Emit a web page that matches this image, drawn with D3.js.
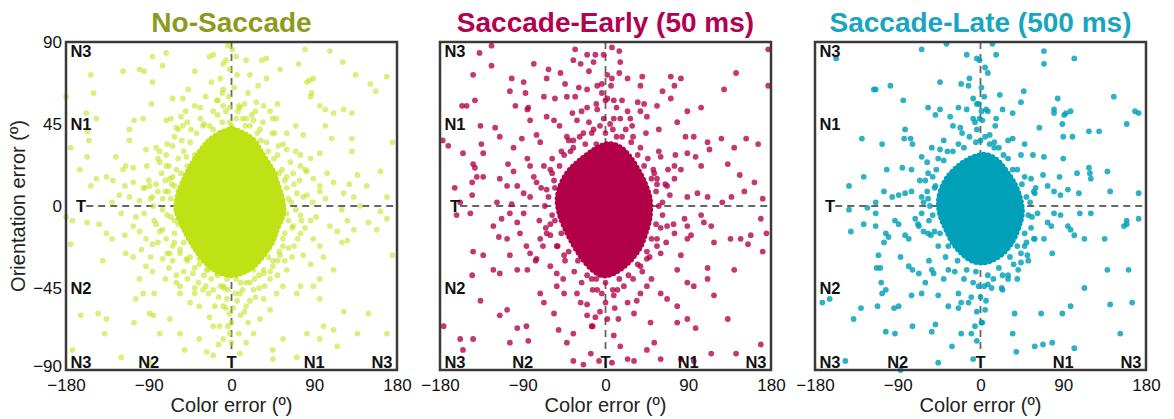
<!DOCTYPE html>
<html>
<head>
<meta charset="utf-8">
<script src="https://cdn.jsdelivr.net/npm/d3@7"></script>
<style>
  body { margin: 0; background: #fff; }
  text { font-family: "Liberation Sans", Arial, sans-serif; }
</style>
</head>
<body>
<div id="chart"></div>
<script>
// ---- data (color error, orientation error) ----
const xTicks = [-180, -90, 0, 90, 180]
const yTicks = [90, 45, 0, -45, -90]
const titles = ["No-Saccade", "Saccade-Early (50 ms)", "Saccade-Late (500 ms)"]
const leftLabels = [[90, "N3"], [45, "N1"], [0, "T"], [-45, "N2"], [-90, "N3"]]
const bottomLabels = [[-90, "N2"], [0, "T"], [90, "N1"], [180, "N3"]]

// outline of the saturated centre blob of each panel
const noSaccadeCore = [[-24,36],[-12,40],[0,42],[12,40],[24,36],[34,28],[44,20],[50,12],[55,4],[56,-4],[50,-12],[44,-20],[36,-26],[26,-32],[14,-36],[0,-38],[-14,-36],[-26,-32],[-36,-26],[-46,-18],[-54,-10],[-60,-2],[-58,6],[-52,14],[-44,22],[-34,30]]
const earlyCore = [[-20,28],[-8,32],[4,34],[16,32],[26,27],[35,20],[43,12],[48,4],[48,-6],[44,-14],[38,-22],[30,-28],[20,-33],[8,-37],[-4,-38],[-16,-34],[-26,-28],[-36,-20],[-44,-12],[-50,-4],[-52,4],[-48,12],[-40,19],[-30,24]]
const lateCore = [[-18,24],[-6,27],[6,28],[18,25],[28,19],[37,12],[43,4],[45,-4],[41,-12],[35,-19],[26,-25],[15,-29],[3,-31],[-9,-30],[-20,-26],[-30,-20],[-38,-12],[-44,-4],[-45,4],[-40,12],[-32,18]]

const noSaccadePts = [
[1,86],[-71,84],[-86,82],[-24,82],[-20,83],[16,80],[38,81],[33,80],[80,86],[107,85],[121,79],[-75,77],[-100,75],[-95,74],[-118,74],[-153,72],[-9,78],[-2,75],[-40,74],[20,72],[53,75],[73,78],[38,70],[29,66],[82,68],[85,69],[89,70],[135,72],[151,67],[157,63],[169,71],[-86,68],[-47,64],[-9,64],[-150,62],[-180,60],
[-64,59],[-53,59],[-87,56],[-15,58],[-9,55],[9,54],[7,52],[27,57],[42,52],[49,48],[96,55],[102,53],[111,51],[122,53],[131,51],[86,60],[87,62],[-158,51],[-96,48],[-106,47],[-71,47],[-20,52],[-55,49],[16,48],[24,47],[-147,48],[102,44],[78,39],[131,37],[175,35],[-157,41],[-111,42],[-60,43],[-53,44],[-31,44],[-2,46],[2,42],[31,42],[47,40],[-175,32],[-155,36],[-111,36],[-93,31],[-82,32],[-71,28],[-64,33],[60,31],[75,28],[51,33],[96,29],[131,30],[109,37],
[-157,27],[-126,27],[-165,20],[-115,22],[-107,21],[-78,24],[-71,22],[-49,27],[-55,18],[-136,16],[-129,14],[-153,11],[-147,15],[-116,11],[-107,13],[-96,10],[-89,11],[-80,8],[-67,15],[-62,11],[-122,6],[-111,5],[-86,5],[-75,4],[-69,8],[75,22],[82,19],[89,15],[96,11],[111,13],[137,17],[162,19],[122,7],[133,5],[169,5],[147,11],[71,7],[78,5],[60,16],[67,18],[102,4],
[-180,-6],[-173,-8],[-157,-9],[-144,-10],[-136,-15],[-116,-16],[-107,-11],[-100,-14],[-82,-10],[-75,-13],[-93,-18],[-86,-21],[-175,-21],[-71,-18],[-64,-22],[-115,-26],[-107,-28],[-140,-30],[-93,-33],[-86,-36],[-75,-29],[-67,-26],[-56,-26],[-49,-29],[162,-3],[169,-7],[149,-9],[158,-13],[126,-8],[133,-13],[107,-11],[115,-14],[75,-5],[86,-8],[67,-11],[75,-15],[89,-18],[96,-22],[126,-19],[56,-18],[62,-23],[78,-27],[86,-32],[111,-35],[175,-27],[53,-27],[45,-33],[24,-35],[35,-37],[-27,-35],[-16,-37],[-35,-29],[-42,-37],
[-164,-60],[-145,-59],[-136,-62],[-173,-79],[-138,-70],[-104,-51],[-96,-48],[-84,-48],[-89,-59],[-85,-60],[-106,-64],[-78,-70],[-67,-62],[-56,-70],[-45,-53],[-40,-48],[-35,-55],[-31,-46],[-60,-42],[-56,-48],[-24,-61],[-20,-66],[-9,-55],[-5,-51],[-9,-44],[-2,-59],[0,-64],[-2,-70],[0,-75],[-13,-66],[-9,-73],[9,-48],[16,-55],[24,-46],[5,-40],[16,-42],[35,-51],[42,-57],[49,-48],[56,-44],[31,-62],[24,-70],[16,-75],[9,-81],[-20,-82],[45,-79],[71,-48],[75,-44],[89,-44],[96,-40],[96,-51],[122,-58],[100,-66],[111,-68],[82,-70],[96,-73],[137,-70],[149,-59],[169,-70],[115,-77],[56,-73],[-35,-73],[-27,-80],[-51,-79],[45,-84],[71,-83],[-89,-86],[-120,-83],
[-60,20],[-65,12],[-70,-5],[-62,-15],[-58,8],[-52,30],[-45,35],[-38,40],[-30,45],[-15,50],[5,48],[15,44],[28,40],[38,35],[50,28],[55,20],[60,10],[65,2],[62,-8],[58,-15],[52,-25],[45,-30],[35,-35],[25,-40],[10,-42],[-5,-40],[-15,-38],[-25,-35],[-35,-32],[-45,-28],[-52,-20],[-58,-10],[-66,4],[-40,28],[30,30],[40,-28],[-30,-30],[0,44],[-8,-45],[8,55],[-3,60],[3,65],[-20,42],[22,50],[-48,22],[48,18],[70,-2],[-75,-2],[-72,8],[68,12],
[-85,0],[-95,-4],[-100,3],[-90,14],[-80,-20],[-68,-34],[-60,-38],[-48,-40],[-40,-45],[-25,-48],[-18,-55],[10,-60],[20,-52],[30,-45],[42,-40],[60,-35],[68,-22],[80,-12],[88,2],[80,20],[70,30],[60,40],[45,48],[35,55],[18,62],[-12,70],[-28,60],[-40,55],[-62,38],[-78,30],[-92,22],[-120,-4],[-130,2],[120,-2],[140,0],[100,-28],[-100,-40],[-4,88],[5,82],
[-62,-8],[-64,16],[-68,22],[-58,26],[-54,36],[-44,42],[-34,48],[-24,44],[-10,46],[-6,52],[12,48],[20,44],[32,36],[40,30],[46,26],[52,18],[58,14],[62,4],[60,-4],[66,-12],[56,-22],[50,-30],[42,-36],[30,-38],[20,-42],[12,-46],[4,-48],[-4,-46],[-12,-44],[-22,-40],[-30,-38],[-40,-34],[-48,-30],[-56,-24],[-62,-20],[-66,-6],[-72,14],[-76,18],[-82,12],[-84,-8],[-78,-14],[-70,-26],[-64,-30],[-52,-36],[-36,-42],[-28,-44],[-14,-50],[-6,-56],[6,-52],[14,-58],[26,-50],[36,-44],[50,-38],[58,-30],[66,-28],[72,-18],[76,-8],[82,6],[74,14],[64,24],[56,34],[44,40],[34,46],[26,52],[14,56],[-2,54],[-16,58],[-34,54],[-48,46],[-58,42],[-70,34],[-80,26],[-88,4],[-94,10],[-104,-6],[-98,-24],[-88,-28],[-72,-40],[-56,-44],[-20,-46],[2,-56],[18,-64],[-4,-66],[8,-70],[-14,-76],[92,-6],[96,8],[104,18],[86,26],[70,44],[50,56],[-10,62],[-22,68],[6,72],[-6,80],[-50,52],[-66,48],[-118,20],[-130,-18],[128,12],[120,-20]
]

const earlyPts = [
[-124,88],[-137,84],[-124,77],[-33,86],[-20,83],[-11,83],[-2,83],[7,87],[15,85],[-35,80],[-27,78],[-13,79],[-18,74],[16,79],[15,73],[24,70],[7,70],[-62,75],[-64,70],[-49,73],[-102,70],[-89,68],[-78,78],[-144,72],[40,71],[71,71],[75,66],[82,70],[142,73],[177,86],[177,66],[129,64],[62,63],[71,59],[38,66],[-104,63],[-87,62],[-44,67],[-29,65],[-20,64],[-9,66],[-4,67],
[-142,58],[-156,55],[-151,55],[-98,55],[-85,53],[-84,54],[-67,60],[-55,59],[-42,60],[-33,60],[-20,54],[-9,53],[2,59],[9,58],[18,58],[35,57],[42,56],[56,55],[89,52],[104,54],[-82,47],[-120,43],[-136,44],[-64,49],[-56,47],[-36,51],[-31,47],[-2,48],[9,48],[16,48],[27,48],[29,44],[38,52],[45,49],[58,42],[78,46],[-91,37],[-100,32],[-75,39],[-71,35],[-177,36],[-171,33],[-155,29],[-135,34],[-133,29],[-115,38],[-42,38],[-35,36],[-24,40],[-13,42],[87,38],[96,38],[111,35],[126,37],[153,37],[166,34],[140,32],
[-144,23],[-142,21],[-133,16],[-140,16],[-106,23],[-100,19],[-85,26],[-82,22],[-145,13],[-164,10],[-145,6],[-115,15],[-107,11],[-96,11],[-89,7],[-75,13],[-64,9],[-67,22],[-58,18],[-118,2],[-102,1],[-82,5],[89,29],[98,27],[113,31],[60,27],[75,22],[82,20],[104,22],[133,23],[146,17],[162,13],[151,8],[137,5],[127,2],[171,4],[100,7],[111,5],[89,5],[67,11],[75,15],[53,18],[56,15],[-158,2],
[-162,-5],[-147,-4],[-122,-11],[-113,-7],[-104,-4],[-96,-9],[-89,-4],[-144,-25],[-133,-27],[-116,-17],[-107,-18],[-93,-15],[-86,-22],[-82,-26],[-75,-29],[-71,-18],[-64,-15],[-53,-22],[-45,-27],[-104,-27],[-122,-35],[-115,-37],[-96,-35],[-85,-35],[-60,-33],[-53,-37],[169,-7],[175,-15],[158,-16],[147,-18],[155,-21],[115,-11],[118,-20],[104,-5],[107,-9],[86,-7],[89,-11],[67,-11],[75,-15],[56,-18],[60,-26],[89,-18],[93,-16],[136,-18],[171,-25],[78,-35],[82,-27],[111,-34],[140,-35],[38,-33],[45,-29],
[-176,-66],[-158,-73],[-155,-79],[-144,-73],[-136,-52],[-145,-38],[-115,-60],[-107,-57],[-104,-75],[-96,-67],[-86,-66],[-84,-74],[-71,-48],[-67,-53],[-53,-44],[-45,-48],[-56,-59],[-51,-68],[-42,-75],[-35,-70],[-27,-53],[-20,-60],[-15,-66],[-11,-61],[-31,-48],[-15,-40],[-9,-46],[0,-53],[2,-62],[9,-49],[13,-46],[9,-71],[16,-77],[-16,-81],[-7,-85],[7,-86],[24,-53],[31,-59],[38,-48],[45,-44],[49,-64],[53,-75],[45,-79],[24,-84],[31,-85],[60,-48],[67,-51],[78,-55],[78,-64],[89,-42],[96,-44],[111,-40],[89,-62],[98,-67],[118,-49],[133,-62],[115,-81],[142,-81],[169,-76],[96,-85],[82,-84],[60,-84],[-35,-85],[-24,-87],
[-55,10],[-58,-5],[-60,20],[-50,22],[-45,28],[-35,32],[-22,34],[-15,40],[0,40],[5,45],[18,38],[28,35],[35,28],[42,22],[50,15],[55,8],[58,0],[55,-10],[50,-18],[45,-25],[35,-32],[25,-38],[15,-40],[0,-42],[-10,-40],[-20,-38],[-30,-30],[-40,-25],[-48,-15],[-55,-8],[-62,5],[62,-5],[-65,-12],[65,12],[-42,15],[40,-12],[30,-25],[-28,-25],[-38,30],[12,38],[-10,34],
[-56,14],[-60,-10],[-58,26],[-48,30],[-40,36],[-28,38],[-18,46],[-6,44],[8,42],[22,42],[30,38],[38,32],[46,26],[52,20],[56,12],[62,2],[60,-12],[56,-22],[48,-28],[40,-36],[30,-40],[20,-44],[8,-46],[-4,-48],[-14,-46],[-26,-42],[-34,-36],[-44,-30],[-52,-22],[-60,-16],[-66,0],[-70,10],[-68,-22],[-72,-8],[66,-20],[70,6],[68,20],[58,30],[24,52],[12,54],[0,58],[-10,56],[-26,52],[-4,62],[6,66],[2,72],[-46,-40],[-20,-54],[-6,-58],[10,-56],[34,-52],[50,-40],[-78,16],[-76,-30],[74,-10],[76,28],[-50,44],[14,-62],[-14,-66],[44,40]
]

const latePts = [
[-37,89],[-64,86],[-15,83],[-4,81],[-1,80],[13,89],[17,83],[5,76],[8,73],[-157,81],[69,85],[69,78],[102,81],[-114,64],[-116,64],[-98,66],[-21,67],[-12,70],[-13,66],[-44,68],[1,65],[21,61],[47,63],[145,60],
[-84,58],[-57,54],[-44,53],[-49,50],[-33,49],[-24,54],[-15,53],[-8,59],[-4,56],[1,52],[6,53],[17,48],[24,53],[35,51],[44,57],[84,59],[80,53],[80,51],[91,50],[93,51],[98,52],[168,52],[172,51],[159,45],[-129,37],[-82,42],[-83,37],[-76,37],[-74,34],[-30,44],[-22,43],[-6,46],[-1,48],[10,39],[15,35],[35,37],[48,34],[64,43],[89,45],[100,38],[118,41],[129,41],[90,38],[-107,34],
[-53,32],[-44,31],[-64,27],[57,28],[69,27],[90,26],[118,21],[119,18],[138,19],[105,18],[86,16],[68,17],[73,11],[55,15],[59,7],[80,8],[87,6],[95,9],[107,7],[141,8],[172,7],[120,15],[-143,11],[-127,16],[-102,20],[-85,21],[-75,20],[-105,8],[-96,5],[-89,6],[-82,7],[-114,2],[-75,8],[-64,5],[-57,4],[-57,18],[-49,11],[-123,-1],
[-143,-2],[-141,-14],[-127,-10],[-114,-4],[-114,-11],[-103,-15],[-100,-17],[-111,-27],[-113,-34],[-109,-34],[-93,-8],[-89,-10],[-82,-16],[-78,-18],[-71,-7],[-67,-11],[-62,-14],[-57,-15],[-87,-28],[-78,-33],[-74,-35],[-67,-37],[-53,-35],[-51,-37],[-105,-20],[172,-7],[159,-8],[156,-11],[159,-10],[135,-18],[138,-35],[161,-35],[108,-4],[120,-4],[102,-16],[113,-18],[95,-11],[98,-13],[80,-4],[87,-5],[73,-9],[77,-11],[59,-18],[69,-18],[78,-26],[48,-22],[51,-27],[41,-35],[44,-31],[30,-38],
[-172,-53],[-164,-51],[-138,-62],[-130,-56],[-112,-55],[-94,-56],[-89,-55],[-107,-48],[-103,-46],[-108,-42],[-103,-69],[-93,-70],[-74,-66],[-75,-49],[-64,-48],[-60,-42],[-46,-49],[-49,-65],[-53,-69],[-35,-55],[-24,-56],[-21,-53],[-13,-53],[-31,-77],[-21,-70],[-10,-70],[-6,-66],[1,-64],[-4,-74],[-8,-84],[8,-43],[12,-45],[23,-45],[37,-59],[5,-57],[35,-70],[39,-80],[66,-59],[59,-77],[68,-76],[78,-75],[89,-59],[98,-55],[102,-78],[113,-45],[141,-54],[165,-53],[152,-70],[-46,-86],[-87,-90],[-147,-85],
[-50,10],[-52,-5],[-48,20],[-40,25],[-30,30],[-18,32],[-5,35],[5,38],[15,32],[25,28],[35,20],[45,12],[50,5],[52,-5],[48,-15],[40,-22],[32,-28],[20,-34],[8,-38],[-5,-36],[-15,-35],[-25,-30],[-35,-22],[-44,-15],[-55,0],[-58,8],[55,-12],[-4,42],[2,47],[-2,-44],[0,-50],[30,-40],[-35,-35],[58,8],
[-52,16],[-56,-8],[-50,-14],[-46,26],[-36,30],[-24,34],[-12,38],[0,36],[10,34],[20,32],[30,26],[40,20],[48,16],[54,2],[56,-6],[50,-20],[44,-26],[36,-32],[24,-38],[14,-40],[4,-44],[-8,-42],[-18,-40],[-28,-36],[-38,-28],[-46,-22],[-54,-16],[-62,2],[-60,14],[-64,-4],[-58,24],[-40,36],[-20,40],[-8,48],[8,52],[-2,56],[4,60],[16,44],[30,36],[44,28],[60,10],[62,-4],[58,-18],[52,-30],[40,-40],[24,-46],[6,-52],[-10,-50],[-24,-48],[-40,-40],[-56,-30],[-68,-10],[-66,14],[-4,-58],[2,-64]
]

// ---- layout ----
let width = 1174, height = 419
let plotTop = 42, plotBottom = 370
let panelLeft = [66, 440, 815], panelWidth = 331
let titleColor = ["#8c9b1e", "#b3004f", "#18a5bf"]
let dotColor = ["rgb(190,226,20)", "rgb(178,0,72)", "rgb(0,160,185)"]
let dotAlpha = [0.55, 0.78, 0.82]
let cores = [noSaccadeCore, earlyCore, lateCore]
let points = [noSaccadePts, earlyPts, latePts]

let svg = d3.select("#chart")
    .append("svg")
    .attr("width", width)
    .attr("height", height)

let y = d3.scaleLinear().domain([-90, 90]).range([plotBottom, plotTop])

titles.forEach((title, i) => {
    let x0 = panelLeft[i], x1 = x0 + panelWidth
    let x = d3.scaleLinear().domain([-180, 180]).range([x0, x1])
    let g = svg.append("g")

    // dashed reference lines through the target
    g.append("line")
        .attr("x1", x(0)).attr("x2", x(0))
        .attr("y1", y(90)).attr("y2", y(-81))
        .attr("stroke", "#666").attr("stroke-width", 1.8)
        .attr("stroke-dasharray", "7 5")
    g.append("line")
        .attr("x1", x(-158)).attr("x2", x(180))
        .attr("y1", y(0)).attr("y2", y(0))
        .attr("stroke", "#666").attr("stroke-width", 1.8)
        .attr("stroke-dasharray", "7 5")

    // dense centre: filled outline, its edge beaded with dots so it reads as overlapping markers
    let coreLine = d3.line()
        .x(d => x(d[0]))
        .y(d => y(d[1]))
        .curve(d3.curveCatmullRomClosed)
    g.append("path")
        .attr("d", coreLine(cores[i]))
        .attr("fill", dotColor[i])
        .attr("stroke", dotColor[i])
        .attr("stroke-width", 6)
        .attr("stroke-linecap", "round")
        .attr("stroke-dasharray", "0 4.5")

    g.append("g").selectAll("circle")
        .data(points[i])
        .enter()
        .append("circle")
        .attr("cx", d => x(d[0]))
        .attr("cy", d => y(d[1]))
        .attr("r", 2.9)
        .attr("fill", dotColor[i])
        .attr("fill-opacity", dotAlpha[i])

    // frame
    g.append("rect")
        .attr("x", x0).attr("y", plotTop)
        .attr("width", panelWidth).attr("height", plotBottom - plotTop)
        .attr("fill", "none")
        .attr("stroke", "#3a3a3a")
        .attr("stroke-width", 2.5)

    // x axis
    let xAxis = g.append("g")
        .attr("transform", `translate(0,${plotBottom})`)
        .call(d3.axisBottom(x).tickValues(xTicks).tickSize(0).tickPadding(9).tickFormat(d3.format("d")))
    xAxis.select(".domain").remove()
    xAxis.selectAll("text")
        .attr("font-size", 17)
        .attr("fill", "#111")
        .style("font-family", "Liberation Sans, Arial, sans-serif")

    g.append("text")
        .attr("x", (x0 + x1) / 2)
        .attr("y", 412)
        .attr("text-anchor", "middle")
        .attr("font-size", 20)
        .attr("fill", "#222")
        .text("Color error (º)")

    // title
    g.append("text")
        .attr("x", (x0 + x1) / 2)
        .attr("y", 32)
        .attr("text-anchor", "middle")
        .attr("font-size", 28)
        .attr("font-weight", "bold")
        .attr("fill", titleColor[i])
        .text(title)

    // N / T labels along the left edge and bottom edge
    leftLabels.forEach(([v, lab]) => {
        let ty = v === 90 ? plotTop + 15 : v === -90 ? plotBottom - 2 : y(v) + 6
        g.append("text")
            .attr("x", x0 + 15).attr("y", ty)
            .attr("text-anchor", "middle")
            .attr("font-size", 16.5).attr("font-weight", "bold")
            .attr("fill", "#111")
            .text(lab)
    })
    bottomLabels.forEach(([v, lab]) => {
        g.append("text")
            .attr("x", v === 180 ? x1 - 15 : x(v)).attr("y", plotBottom - 2)
            .attr("text-anchor", "middle")
            .attr("font-size", 16.5).attr("font-weight", "bold")
            .attr("fill", "#111")
            .text(lab)
    })

    // y axis only on the first panel
    if (i === 0) {
        let yAxis = g.append("g")
            .attr("transform", `translate(${x0},0)`)
            .call(d3.axisLeft(y).tickValues(yTicks).tickSize(0).tickPadding(4).tickFormat(d3.format("d")))
        yAxis.select(".domain").remove()
        yAxis.selectAll("text")
            .attr("font-size", 17)
            .attr("fill", "#111")
            .style("font-family", "Liberation Sans, Arial, sans-serif")
        // lift the bottom label a little so it clears "-180"
        yAxis.selectAll(".tick")
            .filter(d => d === -90)
            .select("text")
            .attr("y", -4)
        g.append("text")
            .attr("transform", `translate(25,${(plotTop + plotBottom) / 2}) rotate(-90)`)
            .attr("text-anchor", "middle")
            .attr("font-size", 20)
            .attr("fill", "#222")
            .text("Orientation error (º)")
    }
})
</script>
</body>
</html>
